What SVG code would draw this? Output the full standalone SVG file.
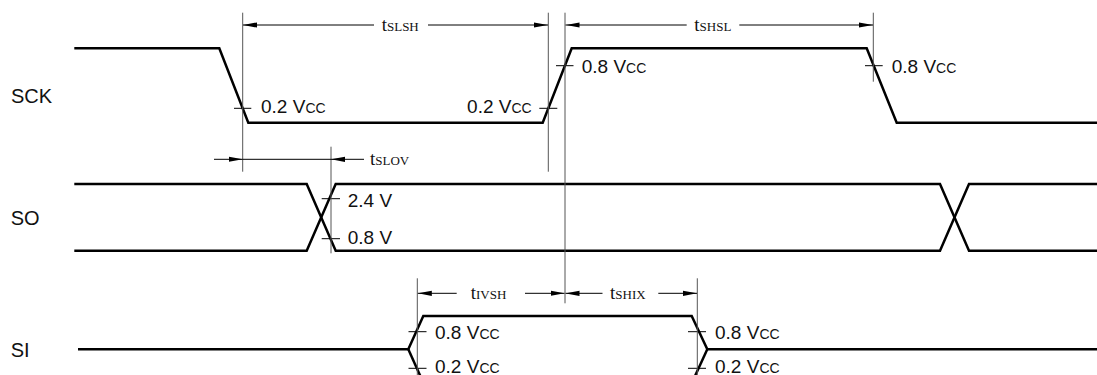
<svg xmlns="http://www.w3.org/2000/svg" width="1097" height="375" viewBox="0 0 1097 375">
<style>
.sig{fill:none;stroke:#000;stroke-width:2.5;stroke-linejoin:miter}
.ref{stroke:#555;stroke-width:1;fill:none}
.tick{stroke:#000;stroke-width:1}
.dim{stroke:#000;stroke-width:1;fill:none}
.arr{marker-end:url(#ah)}
.lbl{font-family:"Liberation Sans",Arial,sans-serif;font-size:20px;fill:#111}
.v{font-family:"Liberation Sans",Arial,sans-serif;font-size:19px;fill:#111}
.sc{font-size:14px}
.t{font-family:"Liberation Serif","Times New Roman",serif;font-size:19px;fill:#111}
.ts{font-size:13px}
</style>
<defs>
<marker id="ah" viewBox="0 -3 14 6" refX="14" refY="0" markerWidth="14" markerHeight="6" markerUnits="userSpaceOnUse" orient="auto">
<path d="M0,-2.6 L14,0 L0,2.6 Z" fill="#000"/>
</marker>
</defs>
<rect width="1097" height="375" fill="#fff"/>

<g id="sck">
<text class="lbl" x="11" y="102.7">SCK</text>
<polyline class="sig" points="74.3,48.3 219.3,48.3 248.3,122.7 542.7,122.7 571.7,48.3 866.7,48.3 896.7,122.7 1097,122.7"/>
<line class="tick" x1="234" y1="108.3" x2="251.3" y2="108.3"/>
<line class="tick" x1="539.3" y1="108.3" x2="557.3" y2="108.3"/>
<line class="tick" x1="556" y1="65.7" x2="573.5" y2="65.7"/>
<line class="tick" x1="865" y1="65.7" x2="882.7" y2="65.7"/>
<text class="v" x="261" y="113.3">0.2 V<tspan class="sc">CC</tspan></text>
<text class="v" x="531.7" y="113.3" text-anchor="end">0.2 V<tspan class="sc">CC</tspan></text>
<text class="v" x="581.7" y="73.3">0.8 V<tspan class="sc">CC</tspan></text>
<text class="v" x="891.7" y="73.3">0.8 V<tspan class="sc">CC</tspan></text>
</g>

<g id="so">
<text class="lbl" x="10.7" y="225">SO</text>
<polyline class="sig" points="74.3,184 306.7,184 335.7,250.7 940,250.7 969,184 1097,184"/>
<polyline class="sig" points="74.3,250.7 306.7,250.7 335.7,184 940,184 969,250.7 1097,250.7"/>
<line class="tick" x1="321.7" y1="198.7" x2="340" y2="198.7"/>
<line class="tick" x1="321.7" y1="238.7" x2="340" y2="238.7"/>
<text class="v" x="347.7" y="207.3">2.4 V</text>
<text class="v" x="347.7" y="244">0.8 V</text>
</g>

<g id="si">
<text class="lbl" x="10.7" y="356.7">SI</text>
<polyline class="sig" points="78,349.3 408.3,349.3 423.3,316 691.7,316 707.3,349.3 1097,349.3"/>
<polyline class="sig" points="408.3,349.3 423.3,382.6"/>
<polyline class="sig" points="692,382.6 707.3,349.3"/>
<line class="tick" x1="408.5" y1="331.7" x2="426.5" y2="331.7"/>
<line class="tick" x1="408.5" y1="368.3" x2="426.5" y2="368.3"/>
<line class="tick" x1="688" y1="331.7" x2="706" y2="331.7"/>
<line class="tick" x1="688" y1="368.3" x2="706" y2="368.3"/>
<text class="v" x="435" y="339.3">0.8 V<tspan class="sc">CC</tspan></text>
<text class="v" x="435" y="372.5">0.2 V<tspan class="sc">CC</tspan></text>
<text class="v" x="715" y="339.3">0.8 V<tspan class="sc">CC</tspan></text>
<text class="v" x="715" y="372.5">0.2 V<tspan class="sc">CC</tspan></text>
</g>

<g id="connectors">
<line class="ref" x1="242.7" y1="12.7" x2="242.7" y2="171.7"/>
<line class="ref" x1="548.3" y1="12.7" x2="548.3" y2="171.7"/>
<line class="ref" x1="565" y1="12.7" x2="565" y2="303.3"/>
<line class="ref" x1="873.3" y1="12.7" x2="873.3" y2="81.7"/>
<line class="ref" x1="331" y1="146.7" x2="331" y2="253.3"/>
<line class="ref" x1="417.3" y1="278.3" x2="417.3" y2="375"/>
<line class="ref" x1="697.3" y1="278.3" x2="697.3" y2="375"/>

<line class="dim arr" x1="374" y1="25" x2="243" y2="25"/>
<line class="dim arr" x1="428" y1="25" x2="548" y2="25"/>
<text class="t" x="381.7" y="30.7">t<tspan class="ts">SLSH</tspan></text>

<line class="dim arr" x1="686.7" y1="25" x2="565.5" y2="25"/>
<line class="dim arr" x1="739.3" y1="25" x2="873" y2="25"/>
<text class="t" x="694.3" y="30.7">t<tspan class="ts">SHSL</tspan></text>

<line class="dim arr" x1="214" y1="159.3" x2="242.7" y2="159.3"/>
<line class="dim" x1="242.7" y1="159.3" x2="331" y2="159.3"/>
<line class="dim arr" x1="364" y1="159.3" x2="331" y2="159.3"/>
<text class="t" x="370" y="165">t<tspan class="ts">SLOV</tspan></text>

<line class="dim arr" x1="456.7" y1="293.3" x2="417.8" y2="293.3"/>
<line class="dim arr" x1="525" y1="293.3" x2="564.5" y2="293.3"/>
<text class="t" x="470.7" y="298.7">t<tspan class="ts">IVSH</tspan></text>

<line class="dim arr" x1="602.5" y1="293.3" x2="565.5" y2="293.3"/>
<line class="dim arr" x1="658.3" y1="293.3" x2="697" y2="293.3"/>
<text class="t" x="610" y="298.7">t<tspan class="ts">SHIX</tspan></text>
</g>
</svg>
